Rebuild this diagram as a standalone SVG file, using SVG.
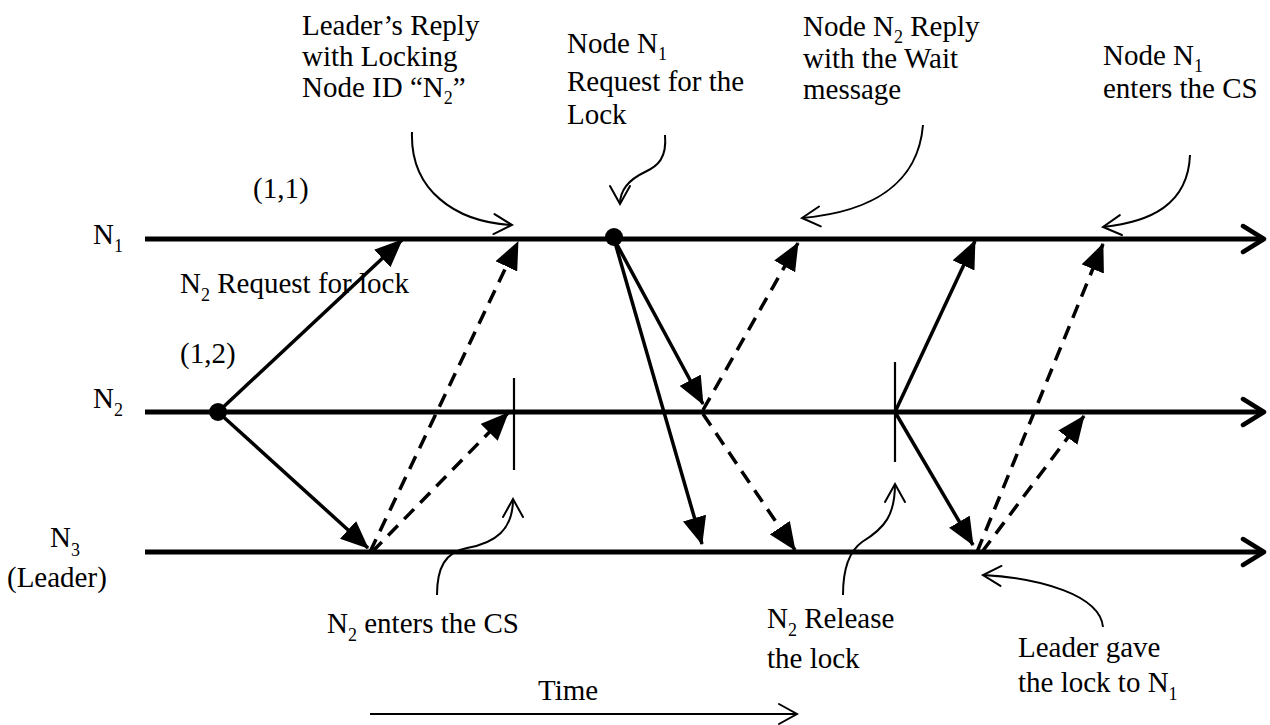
<svg xmlns="http://www.w3.org/2000/svg" width="1270" height="725" viewBox="0 0 1270 725">
  <style>
    .t { font-family: "Liberation Serif", "Times New Roman", serif; font-size: 29px; fill: #000; }
    .sub { font-size: 18px; }
    .axis { stroke: #000; stroke-width: 5; fill: none; }
    .msg { stroke: #000; stroke-width: 3.5; fill: none; }
    .dash { stroke-dasharray: 14 9; }
    .call { stroke: #000; stroke-width: 2; fill: none; }
    .tick { stroke: #000; stroke-width: 2.2; }
  </style>
  <defs>
    <!-- filled head for message arrows -->
    <marker id="tri" markerUnits="userSpaceOnUse" viewBox="0 0 28 24" refX="27" refY="12" markerWidth="28" markerHeight="24" orient="auto">
      <path d="M0,0 L28,12 L0,24 Z" fill="#000"/>
    </marker>
    <!-- open chevron at the end of each time line -->
    <marker id="chev" markerUnits="userSpaceOnUse" viewBox="-3 -3 28 32" refX="21" refY="13" markerWidth="28" markerHeight="32" orient="auto">
      <path d="M0,0 L21,13 L0,26" fill="none" stroke="#000" stroke-width="4.5" stroke-linecap="round" stroke-linejoin="round"/>
    </marker>
    <!-- thin open head for callouts and the time axis -->
    <marker id="vee" markerUnits="userSpaceOnUse" viewBox="-2 -2 22 24" refX="18" refY="10" markerWidth="22" markerHeight="24" orient="auto">
      <path d="M0,0 L18,10 L0,20" fill="none" stroke="#000" stroke-width="2" stroke-linecap="round" stroke-linejoin="miter"/>
    </marker>
  </defs>

  <rect width="1270" height="725" fill="#fff"/>

  <!-- process time lines -->
  <g id="node-n1">
    <line class="axis" x1="145" y1="239" x2="1264" y2="239" marker-end="url(#chev)"/>
    <text class="t" x="93" y="244">N<tspan class="sub" dy="8">1</tspan></text>
    <circle cx="614" cy="237" r="9" fill="#000"/>
  </g>
  <g id="node-n2">
    <line class="axis" x1="145" y1="412" x2="1264" y2="412" marker-end="url(#chev)"/>
    <text class="t" x="93" y="408">N<tspan class="sub" dy="8">2</tspan></text>
    <circle cx="218" cy="412" r="9" fill="#000"/>
    <line class="tick" x1="514" y1="378" x2="514" y2="470"/>
    <line class="tick" x1="895" y1="362" x2="895" y2="462"/>
  </g>
  <g id="node-n3">
    <line class="axis" x1="145" y1="552" x2="1264" y2="552" marker-end="url(#chev)"/>
    <text class="t" x="50" y="547">N<tspan class="sub" dy="9">3</tspan></text>
    <text class="t" x="7" y="587">(Leader)</text>
  </g>

  <!-- messages between the nodes -->
  <g id="connectors">
    <line class="msg" x1="218" y1="412" x2="402" y2="240" marker-end="url(#tri)"/>
    <line class="msg" x1="218" y1="412" x2="368" y2="548" marker-end="url(#tri)"/>
    <line class="msg dash" x1="370" y1="552" x2="518" y2="242" marker-end="url(#tri)"/>
    <line class="msg dash" x1="372" y1="552" x2="508" y2="413" marker-end="url(#tri)"/>
    <line class="msg" x1="614" y1="239" x2="703" y2="404" marker-end="url(#tri)"/>
    <line class="msg" x1="614" y1="239" x2="702" y2="544" marker-end="url(#tri)"/>
    <line class="msg dash" x1="703" y1="410" x2="798" y2="243" marker-end="url(#tri)"/>
    <line class="msg dash" x1="703" y1="414" x2="795" y2="550" marker-end="url(#tri)"/>
    <line class="msg" x1="895" y1="412" x2="975" y2="241" marker-end="url(#tri)"/>
    <line class="msg" x1="895" y1="412" x2="973" y2="545" marker-end="url(#tri)"/>
    <line class="msg dash" x1="977" y1="552" x2="1103" y2="244" marker-end="url(#tri)"/>
    <line class="msg dash" x1="982" y1="552" x2="1084" y2="416" marker-end="url(#tri)"/>

    <!-- callout pointers -->
    <path class="call" d="M412,132 C410,190 455,222 512,225" marker-end="url(#vee)"/>
    <path class="call" d="M665,135 C667,158 658,166 645,172 C628,180 620,190 620,204" marker-end="url(#vee)"/>
    <path class="call" d="M923,125 C918,185 870,212 802,218" marker-end="url(#vee)"/>
    <path class="call" d="M1190,155 C1188,205 1150,222 1103,227" marker-end="url(#vee)"/>
    <path class="call" d="M437,595 C437,568 445,552 467,548 C495,543 513,530 513,499" marker-end="url(#vee)"/>
    <path class="call" d="M843,595 C843,570 848,552 862,542 C885,528 895,515 895,484" marker-end="url(#vee)"/>
    <path class="call" d="M1103,627 C1100,595 1040,578 983,575" marker-end="url(#vee)"/>

    <!-- time direction -->
    <line class="call" x1="370" y1="714" x2="797" y2="714" marker-end="url(#vee)"/>
  </g>

  <!-- annotations -->
  <g id="labels">
    <text class="t" x="253" y="198">(1,1)</text>
    <text class="t" x="180" y="363">(1,2)</text>
    <text class="t" x="180" y="293">N<tspan class="sub" dy="8">2</tspan><tspan dy="-8"> Request for lock</tspan></text>

    <text class="t" x="302" y="35">Leader’s Reply</text>
    <text class="t" x="302" y="66">with Locking</text>
    <text class="t" x="302" y="97">Node ID “N<tspan class="sub" dy="7">2</tspan><tspan dy="-7">”</tspan></text>

    <text class="t" x="567" y="53">Node N<tspan class="sub" dy="7">1</tspan></text>
    <text class="t" x="567" y="91">Request for the</text>
    <text class="t" x="567" y="124">Lock</text>

    <text class="t" x="803" y="36">Node N<tspan class="sub" dy="7">2</tspan><tspan dy="-7"> Reply</tspan></text>
    <text class="t" x="803" y="68">with the Wait</text>
    <text class="t" x="803" y="99">message</text>

    <text class="t" x="1103" y="65">Node N<tspan class="sub" dy="7">1</tspan></text>
    <text class="t" x="1103" y="98">enters the CS</text>

    <text class="t" x="327" y="633">N<tspan class="sub" dy="8">2</tspan><tspan dy="-8"> enters the CS</tspan></text>

    <text class="t" x="767" y="628">N<tspan class="sub" dy="8">2</tspan><tspan dy="-8"> Release</tspan></text>
    <text class="t" x="767" y="668">the lock</text>

    <text class="t" x="1018" y="657">Leader gave</text>
    <text class="t" x="1018" y="692">the lock to N<tspan class="sub" dy="8">1</tspan></text>

    <text class="t" x="538" y="700">Time</text>
  </g>
</svg>
